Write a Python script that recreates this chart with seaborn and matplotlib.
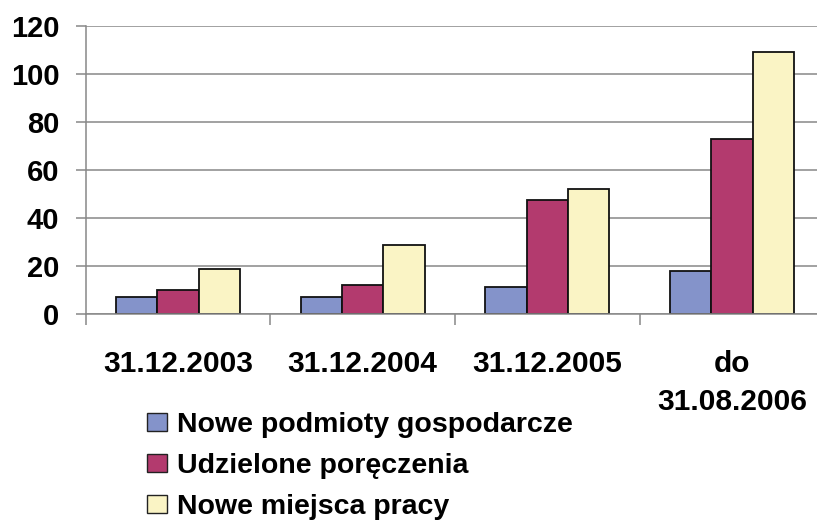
import numpy as np
import pandas as pd
import matplotlib
matplotlib.use("Agg")
import matplotlib.pyplot as plt
import seaborn as sns
from matplotlib.patches import Patch

# data
categories = ["31.12.2003", "31.12.2004", "31.12.2005", "do\n31.08.2006"]
series = ["Nowe podmioty gospodarcze", "Udzielone poręczenia", "Nowe miejsca pracy"]
nowe_podmioty = [7, 7, 11.5, 18]
poreczenia = [10, 12, 47.5, 73]
miejsca_pracy = [19, 29, 52, 109]
colors = ["#8493CA", "#B33A6E", "#FAF4C5"]

df = pd.DataFrame({
    "okres": categories * 3,
    "seria": np.repeat(series, len(categories)),
    "wartosc": nowe_podmioty + poreczenia + miejsca_pracy,
})

sns.set_theme(style="white")
plt.rcParams["font.family"] = ["Liberation Sans", "DejaVu Sans"]
plt.rcParams["font.weight"] = "bold"
plt.rcParams["text.color"] = "black"

fig = plt.figure(figsize=(8.17, 5.2), dpi=100)
ax = fig.add_axes([0.1049, 0.3956, 0.904, 0.555])

sns.barplot(data=df, x="okres", y="wartosc", hue="seria", palette=colors,
            saturation=1, width=0.67, edgecolor="#111111", linewidth=1.3,
            ax=ax, legend=False)

ax.set_ylim(0, 120)
ax.set_xlim(-0.5, 3.5)
ax.set_yticks(range(0, 121, 20))
ax.yaxis.grid(True, color="#888888", linewidth=1.1)
ax.set_axisbelow(True)
ax.set_xlabel("")
ax.set_ylabel("")

for s in ["top", "right"]:
    ax.spines[s].set_visible(False)
for s in ["left", "bottom"]:
    ax.spines[s].set_color("#888888")
    ax.spines[s].set_linewidth(1.1)

ax.tick_params(axis="y", which="major", length=7, width=1.1, color="#888888",
               labelsize=21, labelcolor="black", pad=12, left=True)
ax.tick_params(axis="x", which="major", length=0, labelsize=21.5,
               labelcolor="black", pad=26)
ax.set_xticks([-0.5, 0.5, 1.5, 2.5, 3.5], minor=True)
ax.tick_params(axis="x", which="minor", length=8, width=1.1, color="#888888",
               bottom=True)
for lab in ax.get_xticklabels():
    lab.set_linespacing(1.45)
    lab.set_fontweight("bold")
for lab in ax.get_yticklabels():
    lab.set_fontweight("bold")

handles = [Patch(facecolor=c, edgecolor="#222222", linewidth=1.0) for c in colors]
fig.legend(handles, series, loc="upper left", bbox_to_anchor=(0.18, 0.207),
           frameon=False, handlelength=0.7, handleheight=0.6,
           handletextpad=0.35, labelspacing=0.52, borderaxespad=0,
           borderpad=0, prop={"weight": "bold", "size": 20.5})

fig.savefig("out.png", dpi=100)
